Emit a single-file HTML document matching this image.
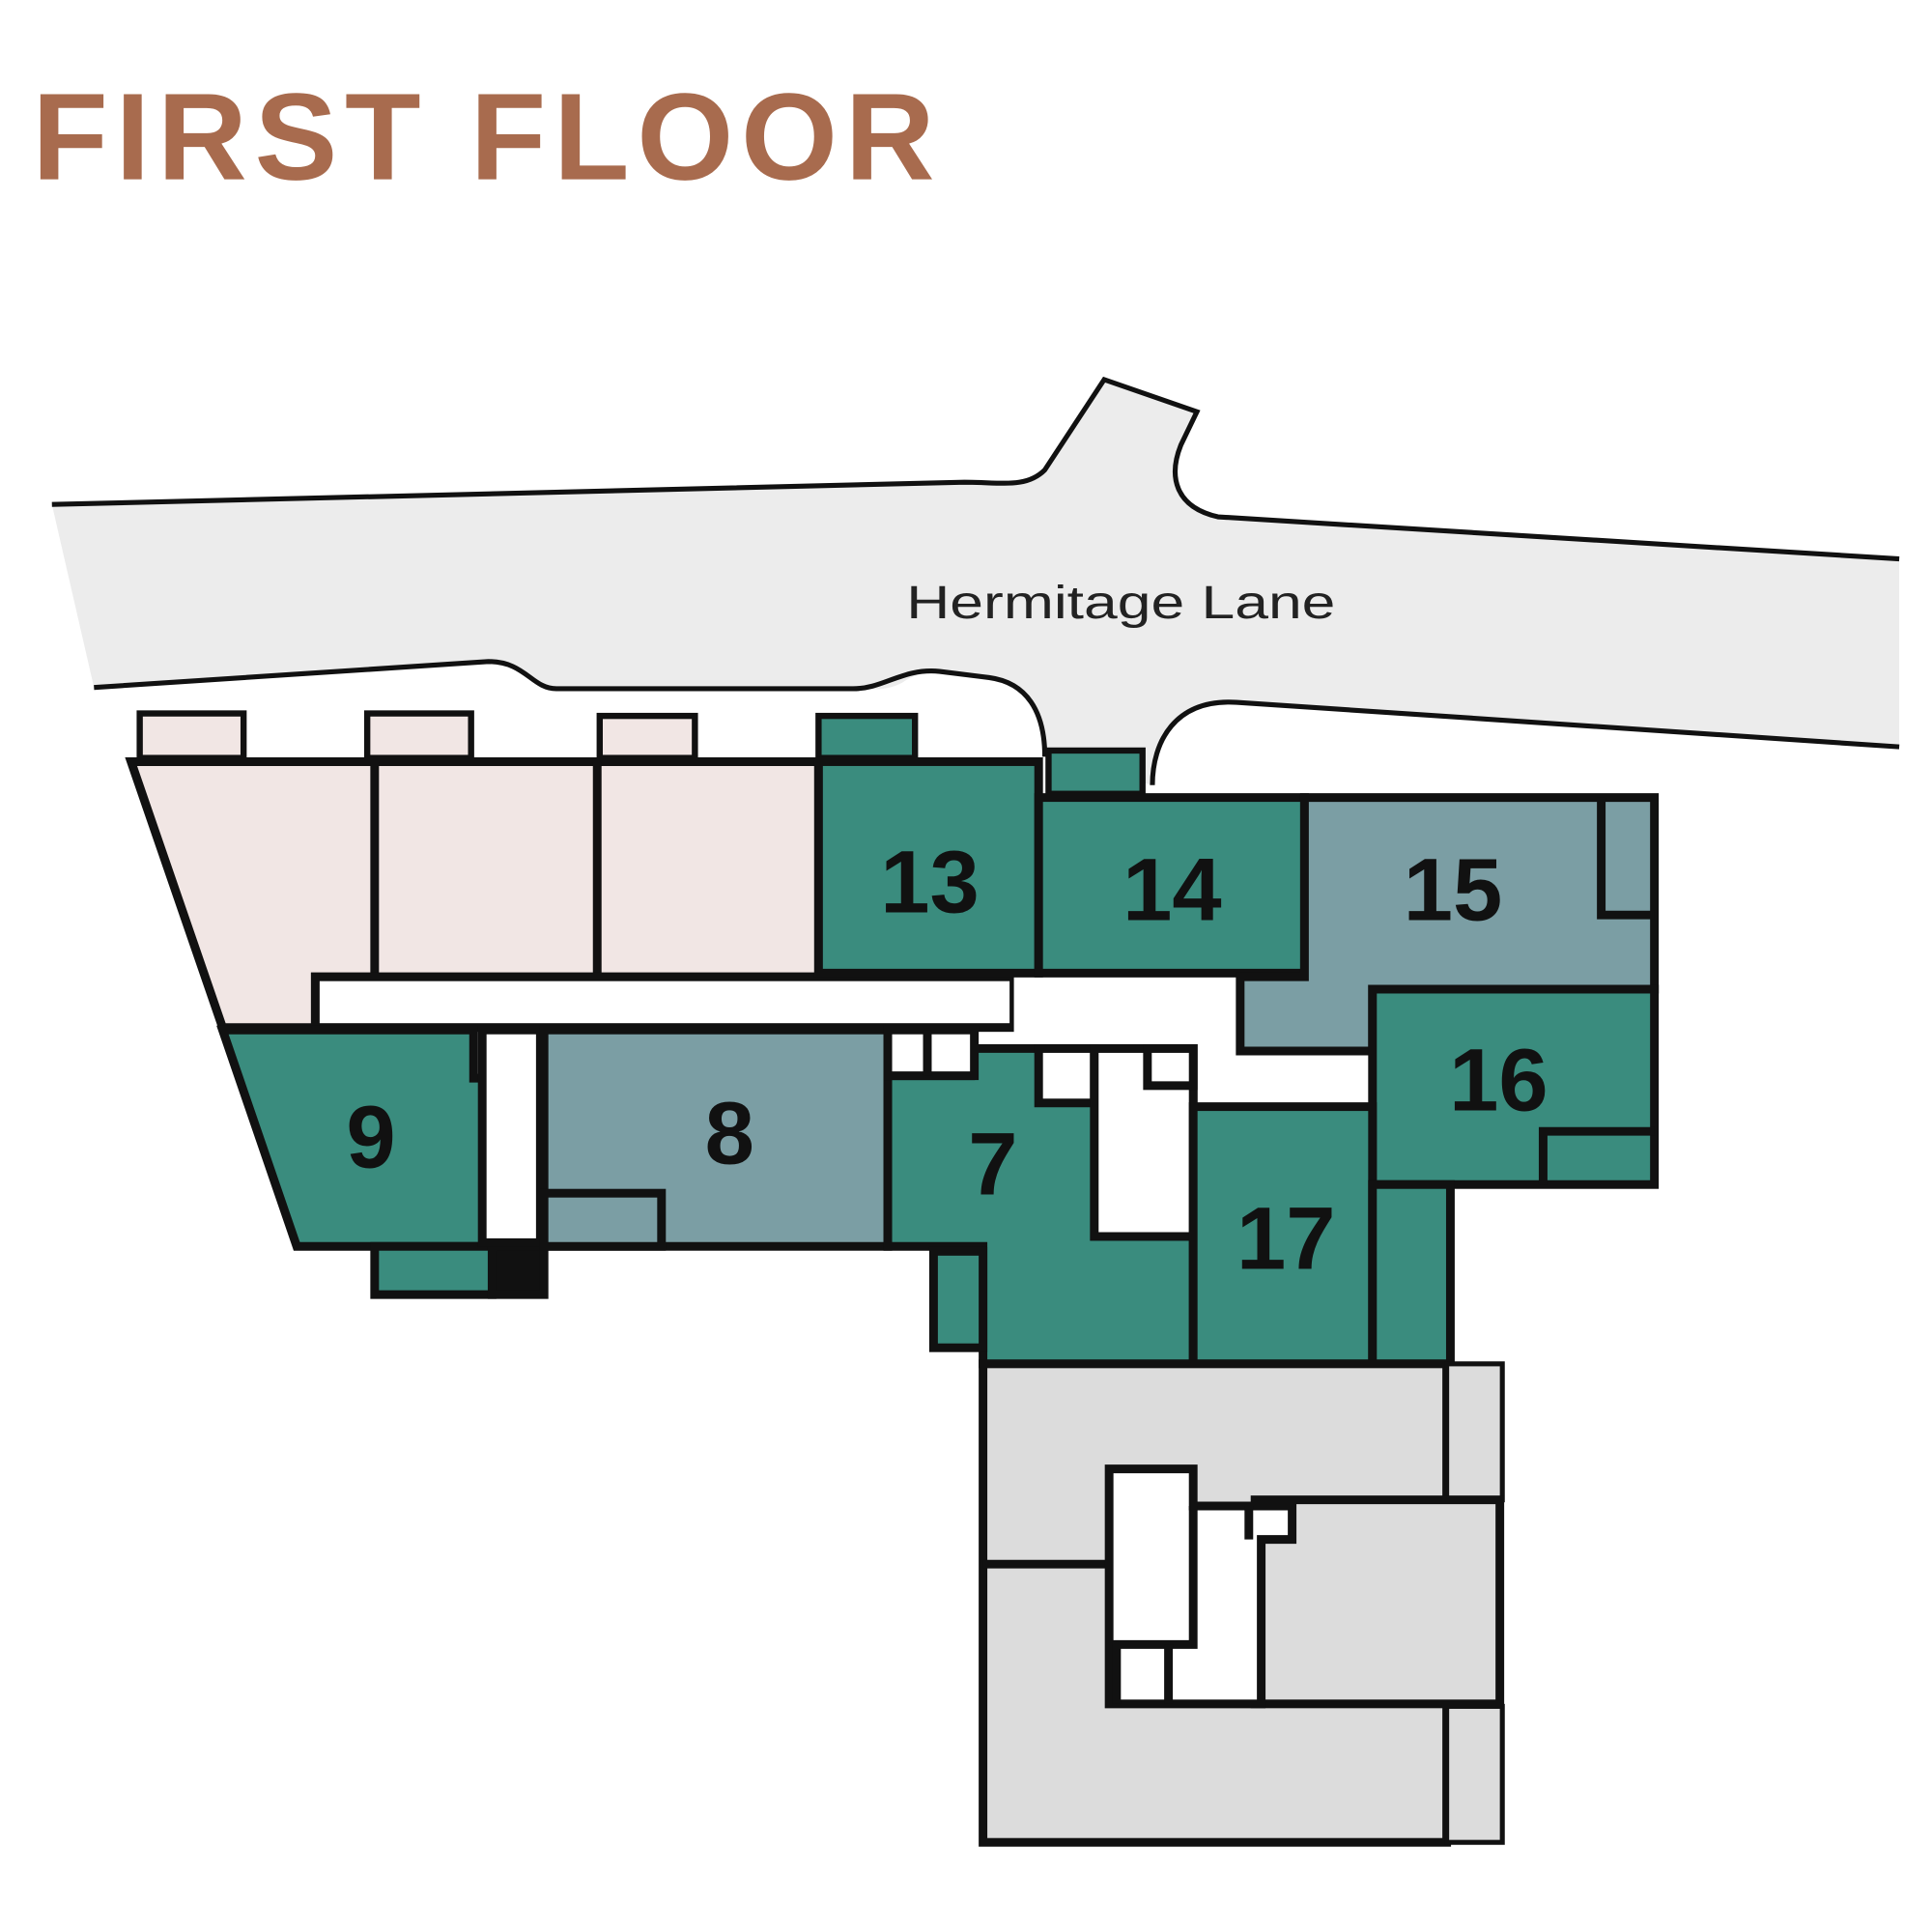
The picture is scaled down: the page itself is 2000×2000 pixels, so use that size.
<!DOCTYPE html>
<html><head><style>html,body{margin:0;padding:0;background:#fff}svg{display:block}</style></head>
<body>
<svg width="2000" height="2000" viewBox="0 0 1562.5 1562.5" xmlns="http://www.w3.org/2000/svg">
<text x="26" y="145" font-family="Liberation Sans, sans-serif" font-weight="bold" font-size="100" fill="#a86b4e" letter-spacing="6" textLength="736" lengthAdjust="spacingAndGlyphs">FIRST FLOOR</text>
<!-- road -->
<path d="M42,408 L780,390 C810,390 830,395 845,380 L893,307 L968,333 L955,360 C945,385 950,410 985,418 L1536,452 L1536,604 L1000,568 C950,565 932,600 932,635 L845,612 C845,575 830,550 800,548 C770,543 745,540 730,552 C715,560 700,557 690,557 L450,557 C430,557 425,535 395,535 L76,556 Z" fill="#ececec"/>
<path d="M42,408 L780,390 C810,390 830,395 845,380 L893,307 L968,333 L955,360 C945,385 950,410 985,418 L1536,452" fill="none" stroke="#111" stroke-width="4"/>
<path d="M1536,604 L1000,568 C950,565 932,600 932,635" fill="none" stroke="#111" stroke-width="4"/>
<path d="M76,556 L395,535 C425,535 430,557 450,557 L690,557 C715,557 730,540 760,543 L800,548 C830,552 845,575 845,612" fill="none" stroke="#111" stroke-width="4"/>
<text x="733" y="500" font-family="Liberation Sans, sans-serif" font-size="38" fill="#222" textLength="347" lengthAdjust="spacingAndGlyphs">Hermitage Lane</text>
<g stroke="#111" stroke-width="5">
<rect x="113" y="577" width="84" height="36" fill="#f1e6e4"/>
<rect x="297" y="577" width="84" height="36" fill="#f1e6e4"/>
<rect x="485" y="579" width="77" height="34" fill="#f1e6e4"/>
<rect x="662" y="579" width="78" height="34" fill="#3a8c7e"/>
<rect x="848" y="607" width="76" height="35" fill="#3a8c7e"/>
</g>
<g stroke="#111" stroke-width="7" stroke-linejoin="miter">
<polygon points="106,616 662,616 662,790 255,790 255,831 180,831" fill="#f1e6e4"/>
<line x1="303" y1="616" x2="303" y2="790"/>
<line x1="483" y1="616" x2="483" y2="831"/>
<rect x="255" y="790" width="565" height="41" fill="#fff"/>
<rect x="820" y="790" width="290" height="100" fill="#fff" stroke="none"/>
<rect x="662" y="616" width="178" height="171" fill="#3a8c7e"/>
<rect x="840" y="645" width="215" height="142" fill="#3a8c7e"/>
<polygon points="1055,645 1338,645 1338,800 1110,800 1110,850 1003,850 1003,790 1055,790" fill="#7b9ea4"/>
<polyline points="1295,645 1295,740 1338,740" fill="none"/>
<rect x="1110" y="800" width="228" height="158" fill="#3a8c7e"/>
<polyline points="1338,915 1248,915 1248,958" fill="none"/>
<polygon points="180,833 383,833 383,872 398,872 398,1008 240,1008" fill="#3a8c7e"/>
<rect x="303" y="1008" width="95" height="39" fill="#3a8c7e"/>
<rect x="398" y="1008" width="42" height="39" fill="#111"/>
<rect x="390" y="833" width="47" height="172" fill="#fff"/>
<rect x="440" y="833" width="278" height="175" fill="#7b9ea4"/>
<rect x="440" y="965" width="95" height="43" fill="#7b9ea4"/>
<polygon points="718,870 785,870 785,848 965,848 965,1103 795,1103 795,1008 718,1008" fill="#3a8c7e"/>
<rect x="755" y="1012" width="40" height="78" fill="#3a8c7e"/>
<rect x="718" y="833" width="70" height="37" fill="#fff"/>
<line x1="750" y1="833" x2="750" y2="870"/>
<rect x="840" y="848" width="45" height="44" fill="#fff"/>
<rect x="885" y="848" width="80" height="152" fill="#fff"/>
<rect x="928" y="848" width="37" height="30" fill="#fff"/>
<rect x="965" y="895" width="145" height="208" fill="#3a8c7e"/>
<rect x="1110" y="958" width="63" height="145" fill="#3a8c7e"/>
<rect x="795" y="1103" width="375" height="387" fill="#dcdcdc"/>
<rect x="1170" y="1103" width="45" height="110" fill="#dcdcdc" stroke-width="4"/>
<rect x="1170" y="1380" width="45" height="110" fill="#dcdcdc" stroke-width="4"/>
<rect x="1015" y="1213" width="198" height="165" fill="#dcdcdc"/>
<line x1="795" y1="1265" x2="897" y2="1265"/>
<polygon points="897,1188 965,1188 965,1218 1045,1218 1045,1245 1020,1245 1020,1378 897,1378" fill="#fff"/>
<polyline points="965,1218 965,1330 903,1330 903,1378" fill="none"/>
<polyline points="945,1330 945,1378" fill="none"/>
<polyline points="1010,1218 1010,1245" fill="none"/>
</g>
<g font-family="Liberation Sans, sans-serif" font-weight="bold" font-size="72" fill="#111" text-anchor="middle">
<text x="752" y="738">13</text>
<text x="948" y="744">14</text>
<text x="1175" y="744">15</text>
<text x="1212" y="898">16</text>
<text x="300" y="944">9</text>
<text x="590" y="941">8</text>
<text x="803" y="966">7</text>
<text x="1040" y="1026">17</text>
</g>
</svg>
</body></html>
